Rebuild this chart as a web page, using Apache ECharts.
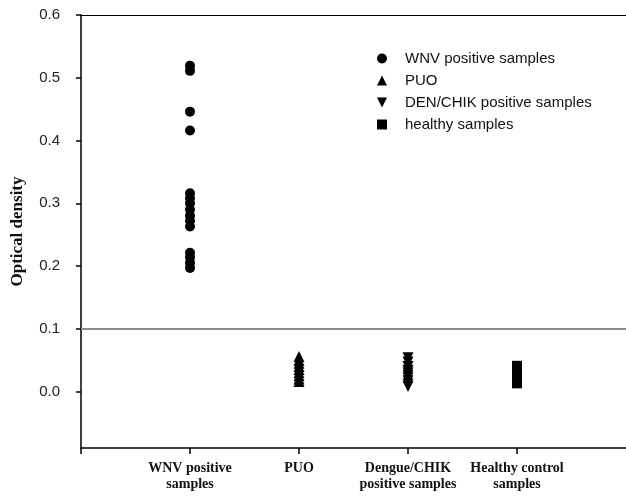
<!DOCTYPE html>
<html>
<head>
<meta charset="utf-8">
<script src="https://cdn.jsdelivr.net/npm/echarts@6/dist/echarts.min.js"></script>
<style>html,body{margin:0;padding:0;background:#fff}#c{width:626px;height:504px}</style>
</head>
<body>
<div id="c"></div>
<script>
var categories = ['WNV positive\nsamples', 'PUO', 'Dengue/CHIK\npositive samples', 'Healthy control\nsamples'];
var legendNames = ['WNV positive samples', 'PUO', 'DEN/CHIK positive samples', 'healthy samples'];
var wnvValues = [0.519, 0.511, 0.446, 0.416, 0.316, 0.308, 0.300, 0.290, 0.280, 0.272, 0.263, 0.221, 0.214, 0.205, 0.197];
var puoValues = [0.056, 0.050, 0.045, 0.040, 0.035, 0.030, 0.025, 0.020, 0.016];
var denValues = [0.054, 0.047, 0.040, 0.034, 0.030, 0.026, 0.022, 0.017, 0.012, 0.008];
var healthyValues = [0.041, 0.036, 0.031, 0.026, 0.021, 0.017, 0.013];
var yTicks = [0, 0.1, 0.2, 0.3, 0.4, 0.5, 0.6];
var xTicks = [0, 1, 2, 3, 4];
var cutoff = 0.1;

function pts(idx, arr) { return arr.map(function (v) { return [idx + 1, v]; }); }

var chart = echarts.init(document.getElementById('c'), null, { renderer: 'canvas' });
var sans = 'Liberation Sans, Arial, sans-serif';
var serif = 'Liberation Serif, Times New Roman, serif';
var symbols = ['circle', 'triangle', 'path://M0,0L10,0L5,10Z', 'rect'];
var sizes = [10, 11, 11, 10];
var datas = [wnvValues, puoValues, denValues, healthyValues];

var series = datas.map(function (arr, i) {
  var s = {
    name: legendNames[i],
    type: 'scatter',
    symbol: symbols[i],
    symbolSize: sizes[i],
    itemStyle: { color: '#000', opacity: 1 },
    data: pts(i, arr),
    z: 3
  };
  if (i === 0) {
    s.markLine = {
      silent: true,
      symbol: 'none',
      label: { show: false },
      lineStyle: { color: '#8c8c8c', width: 2, type: 'solid' },
      data: [{ yAxis: cutoff }],
      z: 1
    };
  }
  return s;
});

chart.setOption({
  animation: false,
  backgroundColor: '#fff',
  grid: { left: 81, right: 0, top: 15, bottom: 56, containLabel: false, outerBoundsMode: 'none' },
  legend: {
    orient: 'vertical',
    left: 372,
    top: 46,
    itemWidth: 10,
    itemHeight: 10,
    itemGap: 7,
    data: legendNames.map(function (n, i) { return { name: n, icon: symbols[i] }; }),
    textStyle: { fontFamily: sans, fontSize: 15, color: '#111', padding: [0, 0, 0, 13] },
    itemStyle: { color: '#000' }
  },
  xAxis: [{
    type: 'value',
    min: 0,
    max: 5,
    interval: 1,
    splitLine: { show: false },
    axisLine: { onZero: false, lineStyle: { color: '#000', width: 1.5 } },
    axisTick: { show: true, length: 6, customValues: xTicks, lineStyle: { color: '#000', width: 1.5 } },
    axisLabel: {
      fontFamily: serif,
      fontWeight: 'bold',
      fontSize: 14,
      color: '#111',
      lineHeight: 16,
      margin: 12,
      formatter: function (v) { return (v >= 1 && v <= 4) ? categories[v - 1] : ''; }
    }
  }, {
    type: 'value',
    position: 'top',
    min: 0,
    max: 5,
    splitLine: { show: false },
    axisLine: { show: true, onZero: false, lineStyle: { color: '#000', width: 1.2 } },
    axisTick: { show: false },
    axisLabel: { show: false }
  }],
  yAxis: {
    type: 'value',
    min: -0.09,
    max: 0.6,
    name: 'Optical density',
    nameLocation: 'middle',
    nameRotate: 90,
    nameGap: 55,
    nameTextStyle: { fontFamily: serif, fontWeight: 'bold', fontSize: 17, color: '#111' },
    splitLine: { show: false },
    axisLine: { show: true, onZero: false, lineStyle: { color: '#000', width: 1.5 } },
    axisTick: { show: true, length: 5, customValues: yTicks, lineStyle: { color: '#000', width: 1.5 } },
    axisLabel: {
      customValues: yTicks,
      fontFamily: sans,
      fontSize: 15,
      color: '#222',
      margin: 21,
      formatter: function (v) { return v.toFixed(1); }
    }
  },
  series: series
});
</script>
</body>
</html>
